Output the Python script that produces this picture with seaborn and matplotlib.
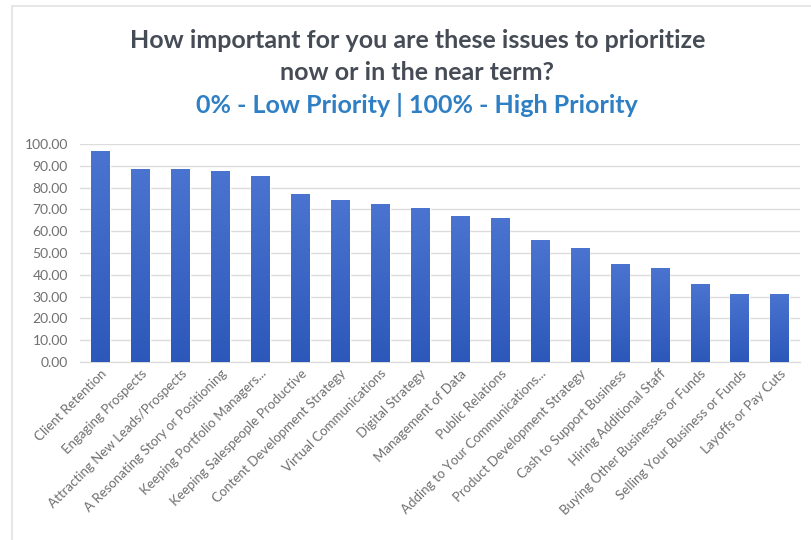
import numpy as np
import pandas as pd
import seaborn as sns
import matplotlib.pyplot as plt
import matplotlib.colors as mcolors
from matplotlib.lines import Line2D

issues = [
    'Client Retention', 'Engaging Prospects', 'Attracting New Leads/Prospects',
    'A Resonating Story or Positioning', 'Keeping Portfolio Managers...',
    'Keeping Salespeople Productive', 'Content Development Strategy',
    'Virtual Communications', 'Digital Strategy', 'Management of Data',
    'Public Relations', 'Adding to Your Communications...',
    'Product Development Strategy', 'Cash to Support Business',
    'Hiring Additional Staff', 'Buying Other Businesses or Funds',
    'Selling Your Business or Funds', 'Layoffs or Pay Cuts',
]
scores = [96.9, 88.7, 88.6, 87.8, 85.2, 77.0, 74.4, 72.4, 70.5, 66.8,
          65.9, 56.0, 52.3, 45.1, 43.2, 35.8, 31.3, 31.3]
y_ticks = np.arange(0, 101, 10)

df = pd.DataFrame({'issue': issues, 'score': scores})

sns.set_style('white')
plt.rcParams['font.family'] = ['Lato', 'DejaVu Sans']

fig = plt.figure(figsize=(8.12, 5.4), dpi=100)
ax = fig.add_axes([0.099, 0.33, 0.886, 0.403])

sns.barplot(data=df, x='issue', y='score', color='#3b66c9', width=0.47,
            ax=ax, zorder=3)

# gradient fill on each bar (lighter top, darker bottom)
cmap = mcolors.LinearSegmentedColormap.from_list('bar', ['#2c58bb', '#4a74cf'])
grad = np.linspace(0, 1, 256).reshape(-1, 1)
for p in ax.patches:
    x0, y0 = p.get_x(), p.get_y()
    w, h = p.get_width(), p.get_height()
    im = ax.imshow(grad, extent=[x0, x0 + w, y0, y0 + h], origin='lower',
                   cmap=cmap, aspect='auto', zorder=3)
    im.set_clip_path(p)
ax.set_xlim(-0.5, len(issues) - 0.5)
ax.set_ylim(0, 100)

ax.set_yticks(y_ticks)
ax.set_yticklabels([f'{v:.2f}' for v in y_ticks], fontsize=10, color='#707070')
ax.set_xticks(range(len(issues)))
ax.set_xticklabels(issues, rotation=45, ha='right', rotation_mode='anchor',
                   fontsize=9.5, color='#707070')
ax.tick_params(axis='y', length=0, pad=9)
ax.tick_params(axis='x', length=0, pad=4)
ax.set_xlabel('')
ax.set_ylabel('')

ax.yaxis.grid(True, color='#dcdcdc', linewidth=1, zorder=0)
ax.xaxis.grid(False)
for s in ['top', 'right', 'left']:
    ax.spines[s].set_visible(False)
ax.spines['bottom'].set_color('#d9d9d9')

# faint chart-area border (left and top edges)
fig.add_artist(Line2D([0.0148, 0.0148], [0, 0.989], color='#e3e3e3', lw=1.2))
fig.add_artist(Line2D([0.0148, 1.0], [0.989, 0.989], color='#e3e3e3', lw=1.2))

fig.text(0.514, 0.925, 'How important for you are these issues to prioritize',
         ha='center', va='center', fontsize=18, fontweight='bold', color='#464c55')
fig.text(0.514, 0.866, 'now or in the near term?',
         ha='center', va='center', fontsize=18, fontweight='bold', color='#464c55')
fig.text(0.514, 0.805, '0% - Low Priority | 100% - High Priority',
         ha='center', va='center', fontsize=18, fontweight='bold', color='#2f7fc4')

fig.savefig('out.png', dpi=100)
